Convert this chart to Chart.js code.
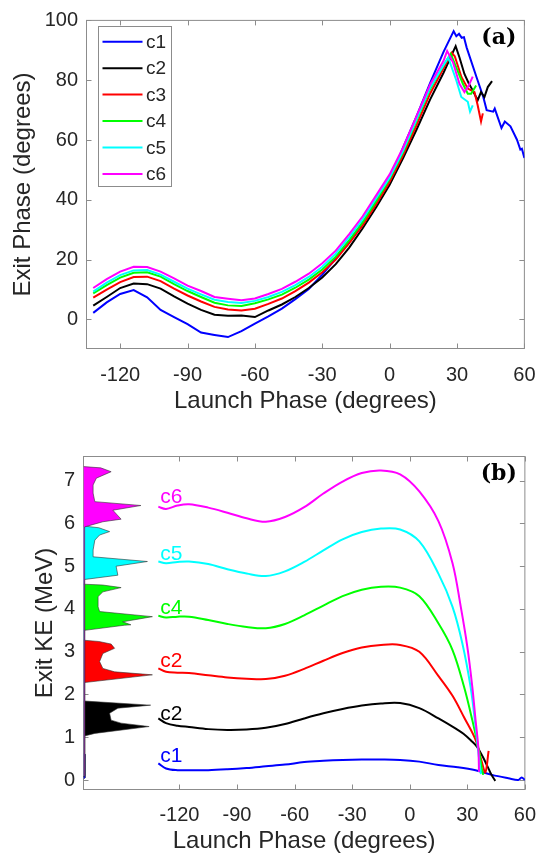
<!DOCTYPE html>
<html>
<head>
<meta charset="utf-8">
<script src="https://cdn.jsdelivr.net/npm/chart.js@4.4.0/dist/chart.umd.min.js"></script>
<style>
  html, body { margin: 0; padding: 0; background: #fff; }
  #wrapA { position: absolute; left: 0; top: 0; }
  #wrapB { position: absolute; left: 0; top: 430px; }
</style>
</head>
<body>
<div id="wrapA"><canvas id="chartA" width="550" height="430"></canvas></div>
<div id="wrapB"><canvas id="chartB" width="550" height="424"></canvas></div>
<script>
// ---- panel (a): exit phase vs launch phase ----
var phaseA = [-132,-126,-120,-114,-108,-102,-96,-90,-84,-78,-72,-66,-60,-54,-48,-42,-36,-30,-24,-18,-12,-6,0,6,12,18,24];
var exitC1 = [2.2,5.7,8.5,9.8,7.4,3.2,0.8,-1.6,-4.4,-5.2,-5.9,-3.9,-1.4,1.0,3.6,6.8,10.2,15.0,20.3,26.0,32.5,39.5,46.5,57.5,68.0,79.0,89.5];
var exitC2 = [4.6,7.5,10.5,12.0,11.8,10.3,7.7,5.3,3.2,1.6,1.2,1.3,0.8,3.0,5.0,7.5,10.5,14.0,18.5,24.0,30.5,37.5,45.0,54.0,63.5,73.5,82.5];
var exitC3 = [7.3,10.0,12.5,14.2,14.3,12.8,10.3,8.0,6.0,4.2,3.3,3.0,3.6,5.2,7.0,9.5,12.3,15.8,20.0,25.5,31.5,38.5,46.0,55.0,65.0,75.5,84.0];
var exitC4 = [8.7,11.5,14.0,15.6,15.8,14.3,11.8,9.5,7.5,5.6,4.7,4.5,5.4,6.7,8.3,10.6,13.3,16.7,21.0,26.5,32.5,39.5,47.0,56.0,66.5,77.0,85.0];
var exitC5 = [9.3,12.3,14.8,16.4,16.5,15.0,12.6,10.3,8.4,6.6,5.8,5.5,6.2,7.5,9.2,11.5,14.2,17.6,22.0,27.5,33.5,40.5,47.5,56.5,67.0,77.5,85.0];
var exitC6 = [10.5,13.5,16.0,17.6,17.5,16.0,13.7,11.3,9.5,7.5,6.9,6.4,7.0,8.5,10.2,12.6,15.3,18.8,23.0,28.5,34.5,41.5,48.5,57.5,68.0,78.5,86.5];

// after the peak every case has its own phase points
var tailPhaseC1 = [28.5,29.7,30.9,32.1,33.1,34.3,38.7,41.7,43.2,46.1,46.8,49.8,51.3,53.8,56.7,58.2,58.9,60];
var tailExitC1  = [96.4,94.7,95.5,94.2,94.4,90.9,81.0,74.4,70.0,69.5,70.5,64.0,66.2,64.6,60.1,56.8,57.1,54.0];
var tailPhaseC2 = [29.4,31.1,33.3,35.2,37.0,39.2,40.7,42.2,43.7,45.6];
var tailExitC2  = [91.4,87.6,82.1,79.0,76.6,73.3,76.0,74.4,77.7,79.7];
var tailPhaseC3 = [27.6,29.0,32.0,34.8,37.8,39.2,40.7,41.5];
var tailExitC3  = [89.2,88.0,81.0,77.2,76.0,71.6,66.2,68.9];
var tailPhaseC4 = [27.2,28.5,32.6,34.8,36.3,38.5];
var tailExitC4  = [88.8,86.5,78.8,75.5,75.5,78.2];
var tailPhaseC5 = [26.1,29.7,31.9,34.8,35.8,37.0];
var tailExitC5  = [87.6,79.9,74.4,72.8,69.5,71.6];
var tailPhaseC6 = [25.6,28.2,31.1,33.3,35.2,37.0];
var tailExitC6  = [89.8,86.0,78.8,76.0,78.2,81.2];

// ---- panel (b): exit KE vs launch phase ----
var phaseB = [-131,-127,-121,-115,-105,-95,-85,-75,-65,-55,-45,-35,-25,-15,-5,5,15];
var keC1 = [0.39,0.27,0.23,0.23,0.23,0.25,0.28,0.32,0.36,0.42,0.45,0.47,0.48,0.48,0.47,0.43,0.35];
var keC2 = [1.44,1.33,1.27,1.24,1.19,1.17,1.18,1.22,1.31,1.44,1.56,1.66,1.74,1.79,1.80,1.68,1.44];
var keC3 = [2.61,2.53,2.51,2.50,2.45,2.40,2.37,2.36,2.44,2.60,2.79,2.97,3.10,3.16,3.16,3.00,2.43];
var keC4 = [3.84,3.80,3.82,3.82,3.74,3.65,3.58,3.55,3.65,3.85,4.08,4.30,4.45,4.52,4.50,4.30,3.66];
var keC5 = [5.11,5.07,5.10,5.11,5.05,4.93,4.83,4.77,4.88,5.10,5.37,5.63,5.80,5.88,5.86,5.58,4.82];
var keC6 = [6.39,6.34,6.42,6.45,6.37,6.25,6.12,6.04,6.15,6.38,6.70,6.98,7.18,7.24,7.15,6.75,6.05];

var keTailPhaseC1 = [25,34.3,42.9,51.4,56.6,58.3,60];
var keTailC1      = [0.30,0.23,0.12,0.04,0.0,0.06,0.0];
var keTailPhaseC2 = [24,28,32,35,38,40.5,42.5,44.6];
var keTailC2      = [1.20,1.08,0.92,0.78,0.55,0.32,0.13,-0.02];
var keTailPhaseC3 = [22.3,28.5,34.3,37.4,39.4,41.1];
var keTailC3      = [1.97,1.45,0.94,0.45,0.18,0.68];
var keTailPhaseC4 = [22.3,28.3,32.6,36.0,37.7,38.3];
var keTailC4      = [3.04,2.18,1.40,0.70,0.23,0.12];
var keTailPhaseC5 = [22.3,27.4,31.7,34.3,36.0,37.1];
var keTailC5      = [4.05,3.20,2.18,1.25,0.55,0.14];
var keTailPhaseC6 = [22.3,26.6,30.0,32.6,34.3,35.7,36.1];
var keTailC6      = [5.07,4.05,3.12,2.18,1.40,0.78,0.19];

// energy spectra drawn against the left edge: [phase offset, KE] outline points
var histC1 = [[-170,0.02],[-168.9,0.06],[-168.7,0.3],[-169.2,0.6],[-170,0.62]];
var histC2 = [[-170,0.08],[-169.4,0.1],[-169.4,1.03],[-164.1,1.09],[-135.8,1.25],[-150.4,1.33],[-155.6,1.40],[-156.4,1.56],[-152.1,1.68],[-135.0,1.75],[-167,1.84],[-170,1.85]];
var histC3 = [[-170,0.08],[-169.4,0.1],[-169.4,2.28],[-134.1,2.46],[-153.8,2.53],[-159.9,2.61],[-161.6,2.77],[-159.9,2.96],[-153.8,3.08],[-155.6,3.18],[-162,3.24],[-170,3.27]];
var histC4 = [[-170,0.08],[-169.4,0.1],[-169.4,3.50],[-148.7,3.62],[-145.3,3.63],[-149.6,3.70],[-134.1,3.82],[-161.6,3.94],[-162.4,4.05],[-162.4,4.29],[-159.9,4.40],[-150.4,4.50],[-160,4.56],[-170,4.58]];
var histC5 = [[-170,0.08],[-169.4,0.1],[-169.4,4.69],[-152.1,4.79],[-153.0,5.00],[-136.7,5.11],[-165.0,5.22],[-165.0,5.38],[-164.1,5.61],[-161.6,5.73],[-156.4,5.81],[-162,5.90],[-170,5.94]];
var histC6 = [[-170,0.08],[-169.4,0.1],[-169.4,5.92],[-159.9,6.04],[-150.4,6.10],[-154.7,6.31],[-140.1,6.42],[-164.1,6.51],[-165.0,6.71],[-165.0,6.90],[-163.3,7.06],[-155.6,7.21],[-161,7.30],[-170,7.33]];

var caseNames   = ["c1", "c2", "c3", "c4", "c5", "c6"];
var curveLabels = ["c1", "c2", "c2", "c4", "c5", "c6"];
var curveLabelKE = [0.55, 1.54, 2.77, 4.01, 5.27, 6.62];
var curveLabelPhase = -130;
var caseColors  = ["#0000ff", "#000000", "#ff0000", "#00ff00", "#00ffff", "#ff00ff"];

var phaseTicks = [-120, -90, -60, -30, 0, 30, 60];
var exitPhaseTicks = [0, 20, 40, 60, 80, 100];
var keTicks = [0, 1, 2, 3, 4, 5, 6, 7];

var FONT = "'Liberation Sans', Arial, Helvetica, sans-serif";
var INK = "#262626";
var BOX = "#8c8c8c";

function pts(xs, ys) {
  return xs.map(function (x, i) { return { x: x, y: ys[i] }; });
}
function pairPts(list) {
  return list.map(function (p) { return { x: p[0], y: p[1] }; });
}

// MATLAB-like box with inward ticks on all four sides
var boxPlugin = {
  id: "matlabBox",
  beforeDatasetsDraw: function (chart) {
    var ctx = chart.ctx, a = chart.chartArea, sx = chart.scales.x, sy = chart.scales.y;
    ctx.save();
    ctx.strokeStyle = BOX;
    ctx.lineWidth = 1;
    ctx.strokeRect(a.left, a.top, a.right - a.left, a.bottom - a.top);
    ctx.beginPath();
    sx.ticks.forEach(function (t) {
      var p = Math.round(sx.getPixelForValue(t.value)) + 0.5;
      ctx.moveTo(p, a.bottom); ctx.lineTo(p, a.bottom - 5);
      ctx.moveTo(p, a.top); ctx.lineTo(p, a.top + 5);
    });
    sy.ticks.forEach(function (t) {
      var p = Math.round(sy.getPixelForValue(t.value)) + 0.5;
      ctx.moveTo(a.left, p); ctx.lineTo(a.left + 5, p);
      ctx.moveTo(a.right, p); ctx.lineTo(a.right - 5, p);
    });
    ctx.stroke();
    ctx.restore();
  }
};

function panelTag(text) {
  return {
    id: "panelTag",
    afterDraw: function (chart) {
      var ctx = chart.ctx, a = chart.chartArea;
      ctx.save();
      ctx.font = "bold 22px 'DejaVu Serif', 'Liberation Serif', serif";
      ctx.fillStyle = "#000";
      ctx.textAlign = "right";
      ctx.textBaseline = "middle";
      ctx.fillText(text, a.right - 8, a.top + 18);
      ctx.restore();
    }
  };
}

var legendPlugin = {
  id: "insideLegend",
  afterDatasetsDraw: function (chart) {
    var ctx = chart.ctx;
    ctx.save();
    ctx.fillStyle = "#fff";
    ctx.fillRect(98.5, 26.5, 73, 160);
    ctx.strokeStyle = BOX;
    ctx.lineWidth = 1;
    ctx.strokeRect(98.5, 26.5, 73, 160);
    ctx.font = "19px " + FONT;
    ctx.textBaseline = "middle";
    ctx.textAlign = "left";
    chart.data.datasets.forEach(function (ds, i) {
      var yy = 41.7 + i * 26.46;
      ctx.strokeStyle = ds.borderColor;
      ctx.lineWidth = 2;
      ctx.beginPath();
      ctx.moveTo(102.5, yy); ctx.lineTo(142.5, yy);
      ctx.stroke();
      ctx.fillStyle = INK;
      ctx.fillText(ds.label, 146, yy + 1);
    });
    ctx.restore();
  }
};

var curveLabelPlugin = {
  id: "curveLabels",
  afterDatasetsDraw: function (chart) {
    var ctx = chart.ctx, sx = chart.scales.x, sy = chart.scales.y;
    ctx.save();
    ctx.font = "21px " + FONT;
    ctx.textAlign = "left";
    ctx.textBaseline = "middle";
    curveLabels.forEach(function (t, i) {
      ctx.fillStyle = caseColors[i];
      ctx.fillText(t, sx.getPixelForValue(curveLabelPhase), sy.getPixelForValue(curveLabelKE[i]));
    });
    ctx.restore();
  }
};

function axisOpts(min, max, ticks, fitSize, tickPad, title, titlePad) {
  return {
    type: "linear",
    min: min,
    max: max,
    afterBuildTicks: function (s) { s.ticks = ticks.map(function (v) { return { value: v }; }); },
    afterFit: function (s) {
      if (s.isHorizontal()) { s.height = fitSize; } else { s.width = fitSize; }
    },
    grid: { display: false, drawTicks: false },
    border: { display: false },
    ticks: { padding: tickPad, color: INK, font: { family: FONT, size: 20 }, maxRotation: 0, autoSkip: false },
    title: { display: true, text: title, color: INK, font: { family: FONT, size: 24, lineHeight: 1 }, padding: titlePad }
  };
}

// ---- chart (a) ----
var exitSets = [
  [exitC1, tailPhaseC1, tailExitC1],
  [exitC2, tailPhaseC2, tailExitC2],
  [exitC3, tailPhaseC3, tailExitC3],
  [exitC4, tailPhaseC4, tailExitC4],
  [exitC5, tailPhaseC5, tailExitC5],
  [exitC6, tailPhaseC6, tailExitC6]
];

new Chart(document.getElementById("chartA").getContext("2d"), {
  type: "line",
  data: {
    datasets: exitSets.map(function (s, i) {
      return {
        label: caseNames[i],
        data: pts(phaseA.concat(s[1]), s[0].concat(s[2])),
        borderColor: caseColors[i],
        borderWidth: 2,
        pointRadius: 0,
        tension: 0,
        fill: false,
        order: 6 - i
      };
    })
  },
  options: {
    responsive: false,
    animation: false,
    layout: { padding: { top: 15.5, right: 19.5, left: 0, bottom: 0 } },
    plugins: { legend: { display: false }, tooltip: { enabled: false } },
    scales: {
      x: axisOpts(-135, 60, phaseTicks, 81.5, 14.5, "Launch Phase (degrees)", { top: 0, bottom: 17 }),
      y: axisOpts(-9.72, 100, exitPhaseTicks, 86.5, 8.4, "Exit Phase (degrees)", { top: 11.7, bottom: 0 })
    }
  },
  plugins: [boxPlugin, legendPlugin, panelTag("(a)")]
});

// ---- chart (b) ----
var keSets = [
  [keC1, keTailPhaseC1, keTailC1],
  [keC2, keTailPhaseC2, keTailC2],
  [keC3, keTailPhaseC3, keTailC3],
  [keC4, keTailPhaseC4, keTailC4],
  [keC5, keTailPhaseC5, keTailC5],
  [keC6, keTailPhaseC6, keTailC6]
];
var hists = [histC1, histC2, histC3, histC4, histC5, histC6];

var bSets = keSets.map(function (s, i) {
  return {
    label: caseNames[i],
    data: pts(phaseB.concat(s[1]), s[0].concat(s[2])),
    borderColor: caseColors[i],
    borderWidth: 2,
    pointRadius: 0,
    tension: 0.35,
    fill: false,
    order: 6 - i
  };
}).concat(hists.map(function (h, i) {
  return {
    label: caseNames[i] + " spectrum",
    data: pairPts(h),
    borderColor: "#333333",
    borderWidth: 0.6,
    backgroundColor: caseColors[i],
    pointRadius: 0,
    tension: 0,
    fill: "shape",
    order: 20 - i
  };
}));

new Chart(document.getElementById("chartB").getContext("2d"), {
  type: "line",
  data: { datasets: bSets },
  options: {
    responsive: false,
    animation: false,
    layout: { padding: { top: 26.5, right: 19.5, left: 0, bottom: 0 } },
    plugins: { legend: { display: false }, tooltip: { enabled: false } },
    scales: {
      x: axisOpts(-170, 60, phaseTicks, 64.5, 14, "Launch Phase (degrees)", { top: 0, bottom: 0.3 }),
      y: axisOpts(-0.222, 7.566, keTicks, 83.5, 8.3, "Exit KE (MeV)", { top: 33.8, bottom: 0 })
    }
  },
  plugins: [boxPlugin, curveLabelPlugin, panelTag("(b)")]
});
</script>
</body>
</html>
